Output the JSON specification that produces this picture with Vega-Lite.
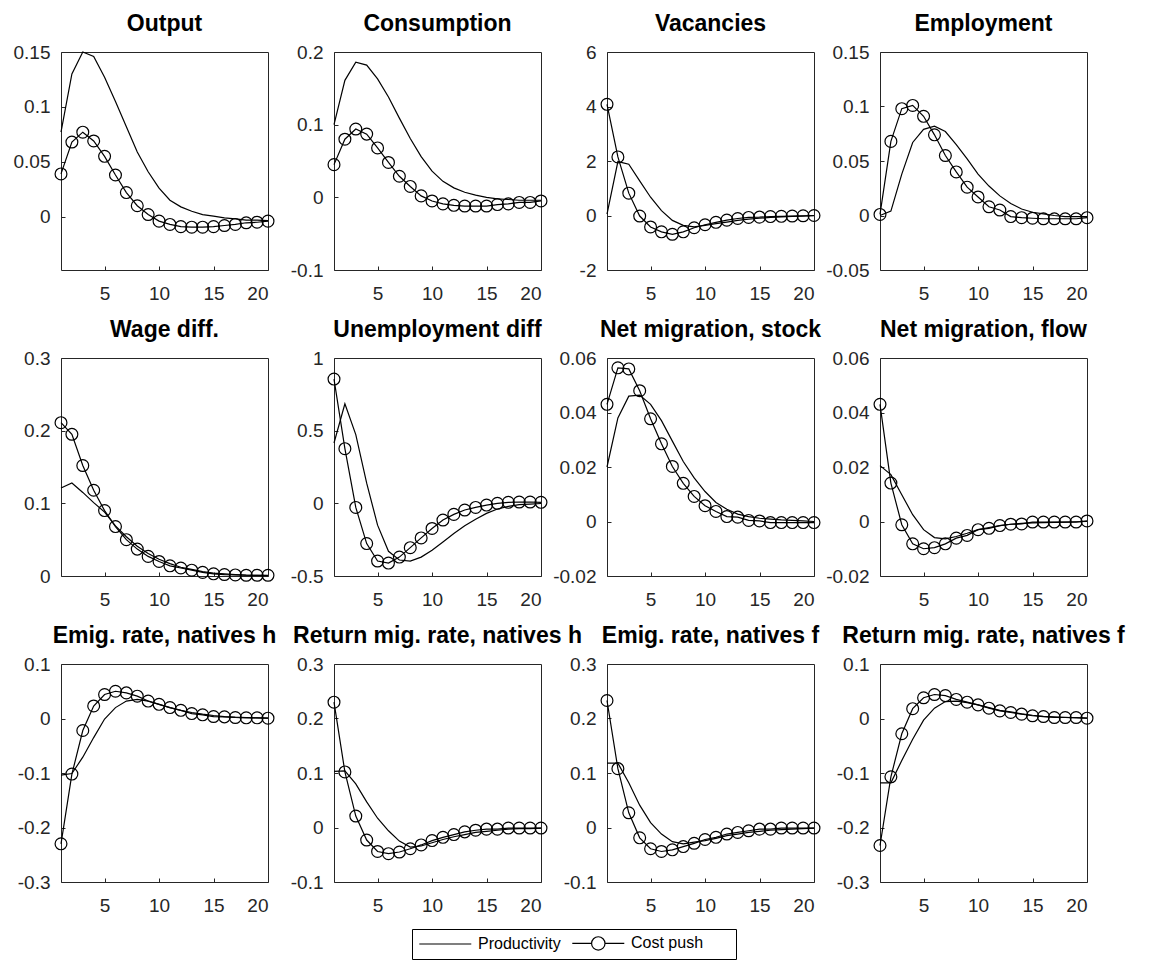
{
"$schema": "https://vega.github.io/schema/vega-lite/v6.json",
"background": "white",
"padding": {"left": 12, "top": 12, "right": 5, "bottom": 5},
"datasets": {"irf": [
{"panel":"Output","t":1,"Productivity":0.077,"Cost push":0.039},
{"panel":"Output","t":2,"Productivity":0.130,"Cost push":0.068},
{"panel":"Output","t":3,"Productivity":0.150,"Cost push":0.077},
{"panel":"Output","t":4,"Productivity":0.146,"Cost push":0.069},
{"panel":"Output","t":5,"Productivity":0.127,"Cost push":0.055},
{"panel":"Output","t":6,"Productivity":0.105,"Cost push":0.038},
{"panel":"Output","t":7,"Productivity":0.082,"Cost push":0.022},
{"panel":"Output","t":8,"Productivity":0.059,"Cost push":0.010},
{"panel":"Output","t":9,"Productivity":0.041,"Cost push":0.002},
{"panel":"Output","t":10,"Productivity":0.026,"Cost push":-0.004},
{"panel":"Output","t":11,"Productivity":0.015,"Cost push":-0.007},
{"panel":"Output","t":12,"Productivity":0.009,"Cost push":-0.009},
{"panel":"Output","t":13,"Productivity":0.005,"Cost push":-0.0095},
{"panel":"Output","t":14,"Productivity":0.002,"Cost push":-0.0095},
{"panel":"Output","t":15,"Productivity":0.0005,"Cost push":-0.009},
{"panel":"Output","t":16,"Productivity":-0.001,"Cost push":-0.008},
{"panel":"Output","t":17,"Productivity":-0.002,"Cost push":-0.007},
{"panel":"Output","t":18,"Productivity":-0.003,"Cost push":-0.0055},
{"panel":"Output","t":19,"Productivity":-0.003,"Cost push":-0.005},
{"panel":"Output","t":20,"Productivity":-0.0035,"Cost push":-0.004},
{"panel":"Consumption","t":1,"Productivity":0.100,"Cost push":0.045},
{"panel":"Consumption","t":2,"Productivity":0.161,"Cost push":0.080},
{"panel":"Consumption","t":3,"Productivity":0.186,"Cost push":0.094},
{"panel":"Consumption","t":4,"Productivity":0.182,"Cost push":0.087},
{"panel":"Consumption","t":5,"Productivity":0.163,"Cost push":0.068},
{"panel":"Consumption","t":6,"Productivity":0.138,"Cost push":0.048},
{"panel":"Consumption","t":7,"Productivity":0.109,"Cost push":0.029},
{"panel":"Consumption","t":8,"Productivity":0.081,"Cost push":0.015},
{"panel":"Consumption","t":9,"Productivity":0.056,"Cost push":0.002},
{"panel":"Consumption","t":10,"Productivity":0.036,"Cost push":-0.005},
{"panel":"Consumption","t":11,"Productivity":0.022,"Cost push":-0.009},
{"panel":"Consumption","t":12,"Productivity":0.013,"Cost push":-0.011},
{"panel":"Consumption","t":13,"Productivity":0.007,"Cost push":-0.012},
{"panel":"Consumption","t":14,"Productivity":0.003,"Cost push":-0.012},
{"panel":"Consumption","t":15,"Productivity":0.000,"Cost push":-0.012},
{"panel":"Consumption","t":16,"Productivity":-0.002,"Cost push":-0.010},
{"panel":"Consumption","t":17,"Productivity":-0.003,"Cost push":-0.009},
{"panel":"Consumption","t":18,"Productivity":-0.004,"Cost push":-0.007},
{"panel":"Consumption","t":19,"Productivity":-0.004,"Cost push":-0.007},
{"panel":"Consumption","t":20,"Productivity":-0.004,"Cost push":-0.005},
{"panel":"Vacancies","t":1,"Productivity":0.05,"Cost push":4.08},
{"panel":"Vacancies","t":2,"Productivity":1.98,"Cost push":2.15},
{"panel":"Vacancies","t":3,"Productivity":1.88,"Cost push":0.82},
{"panel":"Vacancies","t":4,"Productivity":1.27,"Cost push":-0.02},
{"panel":"Vacancies","t":5,"Productivity":0.67,"Cost push":-0.42},
{"panel":"Vacancies","t":6,"Productivity":0.18,"Cost push":-0.60},
{"panel":"Vacancies","t":7,"Productivity":-0.18,"Cost push":-0.69},
{"panel":"Vacancies","t":8,"Productivity":-0.36,"Cost push":-0.60},
{"panel":"Vacancies","t":9,"Productivity":-0.42,"Cost push":-0.45},
{"panel":"Vacancies","t":10,"Productivity":-0.36,"Cost push":-0.34},
{"panel":"Vacancies","t":11,"Productivity":-0.30,"Cost push":-0.25},
{"panel":"Vacancies","t":12,"Productivity":-0.24,"Cost push":-0.17},
{"panel":"Vacancies","t":13,"Productivity":-0.18,"Cost push":-0.11},
{"panel":"Vacancies","t":14,"Productivity":-0.13,"Cost push":-0.07},
{"panel":"Vacancies","t":15,"Productivity":-0.10,"Cost push":-0.06},
{"panel":"Vacancies","t":16,"Productivity":-0.07,"Cost push":-0.04},
{"panel":"Vacancies","t":17,"Productivity":-0.05,"Cost push":-0.03},
{"panel":"Vacancies","t":18,"Productivity":-0.03,"Cost push":-0.02},
{"panel":"Vacancies","t":19,"Productivity":-0.02,"Cost push":-0.01},
{"panel":"Vacancies","t":20,"Productivity":-0.01,"Cost push":0.0},
{"panel":"Employment","t":1,"Productivity":0.000,"Cost push":0.001},
{"panel":"Employment","t":2,"Productivity":0.004,"Cost push":0.068},
{"panel":"Employment","t":3,"Productivity":0.038,"Cost push":0.098},
{"panel":"Employment","t":4,"Productivity":0.067,"Cost push":0.101},
{"panel":"Employment","t":5,"Productivity":0.079,"Cost push":0.091},
{"panel":"Employment","t":6,"Productivity":0.082,"Cost push":0.074},
{"panel":"Employment","t":7,"Productivity":0.077,"Cost push":0.055},
{"panel":"Employment","t":8,"Productivity":0.065,"Cost push":0.040},
{"panel":"Employment","t":9,"Productivity":0.052,"Cost push":0.026},
{"panel":"Employment","t":10,"Productivity":0.038,"Cost push":0.017},
{"panel":"Employment","t":11,"Productivity":0.027,"Cost push":0.008},
{"panel":"Employment","t":12,"Productivity":0.018,"Cost push":0.005},
{"panel":"Employment","t":13,"Productivity":0.011,"Cost push":-0.001},
{"panel":"Employment","t":14,"Productivity":0.006,"Cost push":-0.002},
{"panel":"Employment","t":15,"Productivity":0.003,"Cost push":-0.0025},
{"panel":"Employment","t":16,"Productivity":0.0015,"Cost push":-0.003},
{"panel":"Employment","t":17,"Productivity":0.000,"Cost push":-0.003},
{"panel":"Employment","t":18,"Productivity":-0.001,"Cost push":-0.003},
{"panel":"Employment","t":19,"Productivity":-0.001,"Cost push":-0.003},
{"panel":"Employment","t":20,"Productivity":-0.001,"Cost push":-0.002},
{"panel":"Wage diff.","t":1,"Productivity":0.121,"Cost push":0.211},
{"panel":"Wage diff.","t":2,"Productivity":0.128,"Cost push":0.195},
{"panel":"Wage diff.","t":3,"Productivity":0.115,"Cost push":0.152},
{"panel":"Wage diff.","t":4,"Productivity":0.101,"Cost push":0.118},
{"panel":"Wage diff.","t":5,"Productivity":0.088,"Cost push":0.090},
{"panel":"Wage diff.","t":6,"Productivity":0.069,"Cost push":0.068},
{"panel":"Wage diff.","t":7,"Productivity":0.054,"Cost push":0.050},
{"panel":"Wage diff.","t":8,"Productivity":0.041,"Cost push":0.037},
{"panel":"Wage diff.","t":9,"Productivity":0.031,"Cost push":0.027},
{"panel":"Wage diff.","t":10,"Productivity":0.023,"Cost push":0.020},
{"panel":"Wage diff.","t":11,"Productivity":0.017,"Cost push":0.014},
{"panel":"Wage diff.","t":12,"Productivity":0.012,"Cost push":0.011},
{"panel":"Wage diff.","t":13,"Productivity":0.009,"Cost push":0.008},
{"panel":"Wage diff.","t":14,"Productivity":0.006,"Cost push":0.005},
{"panel":"Wage diff.","t":15,"Productivity":0.004,"Cost push":0.003},
{"panel":"Wage diff.","t":16,"Productivity":0.003,"Cost push":0.002},
{"panel":"Wage diff.","t":17,"Productivity":0.002,"Cost push":0.0015},
{"panel":"Wage diff.","t":18,"Productivity":0.0012,"Cost push":0.001},
{"panel":"Wage diff.","t":19,"Productivity":0.0008,"Cost push":0.001},
{"panel":"Wage diff.","t":20,"Productivity":0.0005,"Cost push":0.001},
{"panel":"Unemployment diff","t":1,"Productivity":0.415,"Cost push":0.855},
{"panel":"Unemployment diff","t":2,"Productivity":0.685,"Cost push":0.376},
{"panel":"Unemployment diff","t":3,"Productivity":0.473,"Cost push":-0.028},
{"panel":"Unemployment diff","t":4,"Productivity":0.139,"Cost push":-0.277},
{"panel":"Unemployment diff","t":5,"Productivity":-0.150,"Cost push":-0.397},
{"panel":"Unemployment diff","t":6,"Productivity":-0.330,"Cost push":-0.411},
{"panel":"Unemployment diff","t":7,"Productivity":-0.390,"Cost push":-0.370},
{"panel":"Unemployment diff","t":8,"Productivity":-0.397,"Cost push":-0.305},
{"panel":"Unemployment diff","t":9,"Productivity":-0.370,"Cost push":-0.238},
{"panel":"Unemployment diff","t":10,"Productivity":-0.323,"Cost push":-0.173},
{"panel":"Unemployment diff","t":11,"Productivity":-0.266,"Cost push":-0.115},
{"panel":"Unemployment diff","t":12,"Productivity":-0.208,"Cost push":-0.076},
{"panel":"Unemployment diff","t":13,"Productivity":-0.155,"Cost push":-0.046},
{"panel":"Unemployment diff","t":14,"Productivity":-0.109,"Cost push":-0.028},
{"panel":"Unemployment diff","t":15,"Productivity":-0.069,"Cost push":-0.012},
{"panel":"Unemployment diff","t":16,"Productivity":-0.039,"Cost push":0.000},
{"panel":"Unemployment diff","t":17,"Productivity":-0.021,"Cost push":0.007},
{"panel":"Unemployment diff","t":18,"Productivity":-0.009,"Cost push":0.009},
{"panel":"Unemployment diff","t":19,"Productivity":-0.005,"Cost push":0.009},
{"panel":"Unemployment diff","t":20,"Productivity":-0.001,"Cost push":0.007},
{"panel":"Net migration, stock","t":1,"Productivity":0.020,"Cost push":0.043},
{"panel":"Net migration, stock","t":2,"Productivity":0.038,"Cost push":0.0564},
{"panel":"Net migration, stock","t":3,"Productivity":0.046,"Cost push":0.056},
{"panel":"Net migration, stock","t":4,"Productivity":0.0464,"Cost push":0.048},
{"panel":"Net migration, stock","t":5,"Productivity":0.043,"Cost push":0.0377},
{"panel":"Net migration, stock","t":6,"Productivity":0.037,"Cost push":0.0285},
{"panel":"Net migration, stock","t":7,"Productivity":0.0295,"Cost push":0.0202},
{"panel":"Net migration, stock","t":8,"Productivity":0.022,"Cost push":0.014},
{"panel":"Net migration, stock","t":9,"Productivity":0.016,"Cost push":0.0092},
{"panel":"Net migration, stock","t":10,"Productivity":0.011,"Cost push":0.0058},
{"panel":"Net migration, stock","t":11,"Productivity":0.007,"Cost push":0.0037},
{"panel":"Net migration, stock","t":12,"Productivity":0.0045,"Cost push":0.0018},
{"panel":"Net migration, stock","t":13,"Productivity":0.0027,"Cost push":0.0016},
{"panel":"Net migration, stock","t":14,"Productivity":0.0018,"Cost push":0.0004},
{"panel":"Net migration, stock","t":15,"Productivity":0.0012,"Cost push":0.0002},
{"panel":"Net migration, stock","t":16,"Productivity":0.0009,"Cost push":-0.0004},
{"panel":"Net migration, stock","t":17,"Productivity":0.0006,"Cost push":-0.0004},
{"panel":"Net migration, stock","t":18,"Productivity":0.0004,"Cost push":-0.0004},
{"panel":"Net migration, stock","t":19,"Productivity":0.0002,"Cost push":-0.0004},
{"panel":"Net migration, stock","t":20,"Productivity":0.0,"Cost push":-0.0004},
{"panel":"Net migration, flow","t":1,"Productivity":0.0205,"Cost push":0.043},
{"panel":"Net migration, flow","t":2,"Productivity":0.0172,"Cost push":0.0141},
{"panel":"Net migration, flow","t":3,"Productivity":0.0098,"Cost push":-0.0012},
{"panel":"Net migration, flow","t":4,"Productivity":0.0025,"Cost push":-0.0082},
{"panel":"Net migration, flow","t":5,"Productivity":-0.003,"Cost push":-0.010},
{"panel":"Net migration, flow","t":6,"Productivity":-0.0059,"Cost push":-0.0096},
{"panel":"Net migration, flow","t":7,"Productivity":-0.0064,"Cost push":-0.0082},
{"panel":"Net migration, flow","t":8,"Productivity":-0.0055,"Cost push":-0.0061},
{"panel":"Net migration, flow","t":9,"Productivity":-0.0043,"Cost push":-0.0051},
{"panel":"Net migration, flow","t":10,"Productivity":-0.003,"Cost push":-0.003},
{"panel":"Net migration, flow","t":11,"Productivity":-0.0022,"Cost push":-0.0025},
{"panel":"Net migration, flow","t":12,"Productivity":-0.0015,"Cost push":-0.0015},
{"panel":"Net migration, flow","t":13,"Productivity":-0.001,"Cost push":-0.001},
{"panel":"Net migration, flow","t":14,"Productivity":-0.0007,"Cost push":-0.0009},
{"panel":"Net migration, flow","t":15,"Productivity":-0.0005,"Cost push":-0.0002},
{"panel":"Net migration, flow","t":16,"Productivity":-0.0004,"Cost push":-0.0002},
{"panel":"Net migration, flow","t":17,"Productivity":-0.0003,"Cost push":-0.0002},
{"panel":"Net migration, flow","t":18,"Productivity":-0.0002,"Cost push":-0.0002},
{"panel":"Net migration, flow","t":19,"Productivity":-0.0001,"Cost push":-0.0002},
{"panel":"Net migration, flow","t":20,"Productivity":0.0,"Cost push":0.0002},
{"panel":"Emig. rate, natives h","t":1,"Productivity":-0.104,"Cost push":-0.230},
{"panel":"Emig. rate, natives h","t":2,"Productivity":-0.101,"Cost push":-0.102},
{"panel":"Emig. rate, natives h","t":3,"Productivity":-0.071,"Cost push":-0.022},
{"panel":"Emig. rate, natives h","t":4,"Productivity":-0.035,"Cost push":0.023},
{"panel":"Emig. rate, natives h","t":5,"Productivity":-0.001,"Cost push":0.044},
{"panel":"Emig. rate, natives h","t":6,"Productivity":0.020,"Cost push":0.050},
{"panel":"Emig. rate, natives h","t":7,"Productivity":0.032,"Cost push":0.047},
{"panel":"Emig. rate, natives h","t":8,"Productivity":0.035,"Cost push":0.041},
{"panel":"Emig. rate, natives h","t":9,"Productivity":0.032,"Cost push":0.032},
{"panel":"Emig. rate, natives h","t":10,"Productivity":0.026,"Cost push":0.026},
{"panel":"Emig. rate, natives h","t":11,"Productivity":0.020,"Cost push":0.020},
{"panel":"Emig. rate, natives h","t":12,"Productivity":0.015,"Cost push":0.015},
{"panel":"Emig. rate, natives h","t":13,"Productivity":0.011,"Cost push":0.009},
{"panel":"Emig. rate, natives h","t":14,"Productivity":0.008,"Cost push":0.0067},
{"panel":"Emig. rate, natives h","t":15,"Productivity":0.0055,"Cost push":0.0036},
{"panel":"Emig. rate, natives h","t":16,"Productivity":0.0036,"Cost push":0.003},
{"panel":"Emig. rate, natives h","t":17,"Productivity":0.0024,"Cost push":0.0018},
{"panel":"Emig. rate, natives h","t":18,"Productivity":0.0018,"Cost push":0.0012},
{"panel":"Emig. rate, natives h","t":19,"Productivity":0.0012,"Cost push":0.0012},
{"panel":"Emig. rate, natives h","t":20,"Productivity":0.0006,"Cost push":0.0006},
{"panel":"Return mig. rate, natives h","t":1,"Productivity":0.103,"Cost push":0.230},
{"panel":"Return mig. rate, natives h","t":2,"Productivity":0.104,"Cost push":0.102},
{"panel":"Return mig. rate, natives h","t":3,"Productivity":0.080,"Cost push":0.021},
{"panel":"Return mig. rate, natives h","t":4,"Productivity":0.047,"Cost push":-0.023},
{"panel":"Return mig. rate, natives h","t":5,"Productivity":0.017,"Cost push":-0.044},
{"panel":"Return mig. rate, natives h","t":6,"Productivity":-0.006,"Cost push":-0.048},
{"panel":"Return mig. rate, natives h","t":7,"Productivity":-0.025,"Cost push":-0.045},
{"panel":"Return mig. rate, natives h","t":8,"Productivity":-0.036,"Cost push":-0.039},
{"panel":"Return mig. rate, natives h","t":9,"Productivity":-0.034,"Cost push":-0.032},
{"panel":"Return mig. rate, natives h","t":10,"Productivity":-0.028,"Cost push":-0.024},
{"panel":"Return mig. rate, natives h","t":11,"Productivity":-0.022,"Cost push":-0.018},
{"panel":"Return mig. rate, natives h","t":12,"Productivity":-0.017,"Cost push":-0.013},
{"panel":"Return mig. rate, natives h","t":13,"Productivity":-0.013,"Cost push":-0.008},
{"panel":"Return mig. rate, natives h","t":14,"Productivity":-0.009,"Cost push":-0.005},
{"panel":"Return mig. rate, natives h","t":15,"Productivity":-0.007,"Cost push":-0.003},
{"panel":"Return mig. rate, natives h","t":16,"Productivity":-0.005,"Cost push":-0.003},
{"panel":"Return mig. rate, natives h","t":17,"Productivity":-0.003,"Cost push":-0.001},
{"panel":"Return mig. rate, natives h","t":18,"Productivity":-0.002,"Cost push":-0.001},
{"panel":"Return mig. rate, natives h","t":19,"Productivity":-0.002,"Cost push":-0.001},
{"panel":"Return mig. rate, natives h","t":20,"Productivity":-0.001,"Cost push":-0.001},
{"panel":"Emig. rate, natives f","t":1,"Productivity":0.118,"Cost push":0.233},
{"panel":"Emig. rate, natives f","t":2,"Productivity":0.118,"Cost push":0.108},
{"panel":"Emig. rate, natives f","t":3,"Productivity":0.082,"Cost push":0.027},
{"panel":"Emig. rate, natives f","t":4,"Productivity":0.041,"Cost push":-0.019},
{"panel":"Emig. rate, natives f","t":5,"Productivity":0.009,"Cost push":-0.039},
{"panel":"Emig. rate, natives f","t":6,"Productivity":-0.012,"Cost push":-0.044},
{"panel":"Emig. rate, natives f","t":7,"Productivity":-0.026,"Cost push":-0.041},
{"panel":"Emig. rate, natives f","t":8,"Productivity":-0.030,"Cost push":-0.035},
{"panel":"Emig. rate, natives f","t":9,"Productivity":-0.027,"Cost push":-0.029},
{"panel":"Emig. rate, natives f","t":10,"Productivity":-0.024,"Cost push":-0.022},
{"panel":"Emig. rate, natives f","t":11,"Productivity":-0.020,"Cost push":-0.018},
{"panel":"Emig. rate, natives f","t":12,"Productivity":-0.015,"Cost push":-0.012},
{"panel":"Emig. rate, natives f","t":13,"Productivity":-0.012,"Cost push":-0.009},
{"panel":"Emig. rate, natives f","t":14,"Productivity":-0.009,"Cost push":-0.006},
{"panel":"Emig. rate, natives f","t":15,"Productivity":-0.007,"Cost push":-0.003},
{"panel":"Emig. rate, natives f","t":16,"Productivity":-0.005,"Cost push":-0.003},
{"panel":"Emig. rate, natives f","t":17,"Productivity":-0.004,"Cost push":-0.001},
{"panel":"Emig. rate, natives f","t":18,"Productivity":-0.003,"Cost push":-0.001},
{"panel":"Emig. rate, natives f","t":19,"Productivity":-0.002,"Cost push":-0.001},
{"panel":"Emig. rate, natives f","t":20,"Productivity":-0.001,"Cost push":-0.001},
{"panel":"Return mig. rate, natives f","t":1,"Productivity":-0.118,"Cost push":-0.233},
{"panel":"Return mig. rate, natives f","t":2,"Productivity":-0.118,"Cost push":-0.107},
{"panel":"Return mig. rate, natives f","t":3,"Productivity":-0.077,"Cost push":-0.028},
{"panel":"Return mig. rate, natives f","t":4,"Productivity":-0.038,"Cost push":0.018},
{"panel":"Return mig. rate, natives f","t":5,"Productivity":-0.003,"Cost push":0.038},
{"panel":"Return mig. rate, natives f","t":6,"Productivity":0.019,"Cost push":0.044},
{"panel":"Return mig. rate, natives f","t":7,"Productivity":0.031,"Cost push":0.042},
{"panel":"Return mig. rate, natives f","t":8,"Productivity":0.032,"Cost push":0.035},
{"panel":"Return mig. rate, natives f","t":9,"Productivity":0.029,"Cost push":0.030},
{"panel":"Return mig. rate, natives f","t":10,"Productivity":0.025,"Cost push":0.025},
{"panel":"Return mig. rate, natives f","t":11,"Productivity":0.020,"Cost push":0.019},
{"panel":"Return mig. rate, natives f","t":12,"Productivity":0.015,"Cost push":0.014},
{"panel":"Return mig. rate, natives f","t":13,"Productivity":0.012,"Cost push":0.011},
{"panel":"Return mig. rate, natives f","t":14,"Productivity":0.0085,"Cost push":0.008},
{"panel":"Return mig. rate, natives f","t":15,"Productivity":0.006,"Cost push":0.005},
{"panel":"Return mig. rate, natives f","t":16,"Productivity":0.004,"Cost push":0.0036},
{"panel":"Return mig. rate, natives f","t":17,"Productivity":0.003,"Cost push":0.0018},
{"panel":"Return mig. rate, natives f","t":18,"Productivity":0.002,"Cost push":0.0018},
{"panel":"Return mig. rate, natives f","t":19,"Productivity":0.0012,"Cost push":0.0018},
{"panel":"Return mig. rate, natives f","t":20,"Productivity":0.0006,"Cost push":0.0006}
]},
"data": {"name": "irf"},
"columns": 4,
"spacing": {"column": 66, "row": 88},
"bounds": "flush",
"concat": [
{"title": "Output", "width": 207, "height": 218,
 "transform": [{"filter": "datum.panel === 'Output'"}],
 "encoding": {"x": {"field": "t", "type": "quantitative", "scale": {"domain": [1, 20], "nice": false, "zero": false}, "axis": {"values": [5, 10, 15, 20]}}},
 "layer": [
  {"mark": {"type": "line", "color": "black", "strokeWidth": 1.2}, "encoding": {"y": {"field": "Productivity", "type": "quantitative", "scale": {"domain": [-0.0485, 0.15], "nice": false, "zero": false}, "axis": {"values": [0, 0.05, 0.1, 0.15]}}}},
  {"mark": {"type": "line", "color": "black", "strokeWidth": 1.2}, "encoding": {"y": {"field": "Cost push", "type": "quantitative", "scale": {"domain": [-0.0485, 0.15], "nice": false, "zero": false}, "axis": {"values": [0, 0.05, 0.1, 0.15]}}}},
  {"mark": {"type": "point", "shape": "circle", "filled": false, "color": "black", "size": 140, "strokeWidth": 1.2, "opacity": 1}, "encoding": {"y": {"field": "Cost push", "type": "quantitative", "scale": {"domain": [-0.0485, 0.15], "nice": false, "zero": false}, "axis": {"values": [0, 0.05, 0.1, 0.15]}}}},
  {"transform": [{"fold": ["Productivity", "Cost push"], "as": ["series", "val"]}],
   "mark": {"type": "point", "opacity": 0},
   "encoding": {
    "y": {"field": "val", "type": "quantitative", "scale": {"domain": [-0.0485, 0.15], "nice": false, "zero": false}, "axis": {"values": [0, 0.05, 0.1, 0.15]}},
    "shape": {"field": "series", "type": "nominal",
      "scale": {"domain": ["Productivity", "Cost push"], "range": ["M-1,0H6.75", "M-1,0H1.875M3.875,0H6.75M3.875,0A1,1,0,1,1,1.875,0A1,1,0,1,1,3.875,0"]},
      "legend": {"title": null, "orient": "none", "legendX": 351, "legendY": 877, "direction": "horizontal",
        "strokeColor": "black", "fillColor": "white", "padding": 6, "labelFontSize": 16, "labelFont": "Liberation Sans", "labelColor": "black",
        "symbolSize": 180, "symbolStrokeColor": "black", "symbolFillColor": "transparent", "symbolStrokeWidth": 1.2, "symbolOpacity": 1,
        "labelOffset": 44, "columnPadding": 8,
        "labelExpr": "datum.label === 'Cost push' ? 'Cost push\u00a0\u00a0\u00a0\u00a0\u00a0\u00a0\u200b' : datum.label",
        "encode": {"symbols": {"update": {"opacity": {"value": 1}, "strokeOpacity": {"value": 1}}}}}}
   }}
 ]},
{"title": "Consumption", "width": 207, "height": 218,
 "transform": [{"filter": "datum.panel === 'Consumption'"}],
 "encoding": {"x": {"field": "t", "type": "quantitative", "scale": {"domain": [1, 20], "nice": false, "zero": false}, "axis": {"values": [5, 10, 15, 20]}}},
 "layer": [
  {"mark": {"type": "line", "color": "black", "strokeWidth": 1.2}, "encoding": {"y": {"field": "Productivity", "type": "quantitative", "scale": {"domain": [-0.1, 0.2], "nice": false, "zero": false}, "axis": {"values": [-0.1, 0, 0.1, 0.2]}}}},
  {"mark": {"type": "line", "color": "black", "strokeWidth": 1.2}, "encoding": {"y": {"field": "Cost push", "type": "quantitative", "scale": {"domain": [-0.1, 0.2], "nice": false, "zero": false}, "axis": {"values": [-0.1, 0, 0.1, 0.2]}}}},
  {"mark": {"type": "point", "shape": "circle", "filled": false, "color": "black", "size": 140, "strokeWidth": 1.2, "opacity": 1}, "encoding": {"y": {"field": "Cost push", "type": "quantitative", "scale": {"domain": [-0.1, 0.2], "nice": false, "zero": false}, "axis": {"values": [-0.1, 0, 0.1, 0.2]}}}}
 ]},
{"title": "Vacancies", "width": 207, "height": 218,
 "transform": [{"filter": "datum.panel === 'Vacancies'"}],
 "encoding": {"x": {"field": "t", "type": "quantitative", "scale": {"domain": [1, 20], "nice": false, "zero": false}, "axis": {"values": [5, 10, 15, 20]}}},
 "layer": [
  {"mark": {"type": "line", "color": "black", "strokeWidth": 1.2}, "encoding": {"y": {"field": "Productivity", "type": "quantitative", "scale": {"domain": [-2, 6], "nice": false, "zero": false}, "axis": {"values": [-2, 0, 2, 4, 6]}}}},
  {"mark": {"type": "line", "color": "black", "strokeWidth": 1.2}, "encoding": {"y": {"field": "Cost push", "type": "quantitative", "scale": {"domain": [-2, 6], "nice": false, "zero": false}, "axis": {"values": [-2, 0, 2, 4, 6]}}}},
  {"mark": {"type": "point", "shape": "circle", "filled": false, "color": "black", "size": 140, "strokeWidth": 1.2, "opacity": 1}, "encoding": {"y": {"field": "Cost push", "type": "quantitative", "scale": {"domain": [-2, 6], "nice": false, "zero": false}, "axis": {"values": [-2, 0, 2, 4, 6]}}}}
 ]},
{"title": "Employment", "width": 207, "height": 218,
 "transform": [{"filter": "datum.panel === 'Employment'"}],
 "encoding": {"x": {"field": "t", "type": "quantitative", "scale": {"domain": [1, 20], "nice": false, "zero": false}, "axis": {"values": [5, 10, 15, 20]}}},
 "layer": [
  {"mark": {"type": "line", "color": "black", "strokeWidth": 1.2}, "encoding": {"y": {"field": "Productivity", "type": "quantitative", "scale": {"domain": [-0.05, 0.15], "nice": false, "zero": false}, "axis": {"values": [-0.05, 0, 0.05, 0.1, 0.15]}}}},
  {"mark": {"type": "line", "color": "black", "strokeWidth": 1.2}, "encoding": {"y": {"field": "Cost push", "type": "quantitative", "scale": {"domain": [-0.05, 0.15], "nice": false, "zero": false}, "axis": {"values": [-0.05, 0, 0.05, 0.1, 0.15]}}}},
  {"mark": {"type": "point", "shape": "circle", "filled": false, "color": "black", "size": 140, "strokeWidth": 1.2, "opacity": 1}, "encoding": {"y": {"field": "Cost push", "type": "quantitative", "scale": {"domain": [-0.05, 0.15], "nice": false, "zero": false}, "axis": {"values": [-0.05, 0, 0.05, 0.1, 0.15]}}}}
 ]},
{"title": "Wage diff.", "width": 207, "height": 218,
 "transform": [{"filter": "datum.panel === 'Wage diff.'"}],
 "encoding": {"x": {"field": "t", "type": "quantitative", "scale": {"domain": [1, 20], "nice": false, "zero": false}, "axis": {"values": [5, 10, 15, 20]}}},
 "layer": [
  {"mark": {"type": "line", "color": "black", "strokeWidth": 1.2}, "encoding": {"y": {"field": "Productivity", "type": "quantitative", "scale": {"domain": [0, 0.3], "nice": false, "zero": false}, "axis": {"values": [0, 0.1, 0.2, 0.3]}}}},
  {"mark": {"type": "line", "color": "black", "strokeWidth": 1.2}, "encoding": {"y": {"field": "Cost push", "type": "quantitative", "scale": {"domain": [0, 0.3], "nice": false, "zero": false}, "axis": {"values": [0, 0.1, 0.2, 0.3]}}}},
  {"mark": {"type": "point", "shape": "circle", "filled": false, "color": "black", "size": 140, "strokeWidth": 1.2, "opacity": 1}, "encoding": {"y": {"field": "Cost push", "type": "quantitative", "scale": {"domain": [0, 0.3], "nice": false, "zero": false}, "axis": {"values": [0, 0.1, 0.2, 0.3]}}}}
 ]},
{"title": "Unemployment diff", "width": 207, "height": 218,
 "transform": [{"filter": "datum.panel === 'Unemployment diff'"}],
 "encoding": {"x": {"field": "t", "type": "quantitative", "scale": {"domain": [1, 20], "nice": false, "zero": false}, "axis": {"values": [5, 10, 15, 20]}}},
 "layer": [
  {"mark": {"type": "line", "color": "black", "strokeWidth": 1.2}, "encoding": {"y": {"field": "Productivity", "type": "quantitative", "scale": {"domain": [-0.5, 1], "nice": false, "zero": false}, "axis": {"values": [-0.5, 0, 0.5, 1]}}}},
  {"mark": {"type": "line", "color": "black", "strokeWidth": 1.2}, "encoding": {"y": {"field": "Cost push", "type": "quantitative", "scale": {"domain": [-0.5, 1], "nice": false, "zero": false}, "axis": {"values": [-0.5, 0, 0.5, 1]}}}},
  {"mark": {"type": "point", "shape": "circle", "filled": false, "color": "black", "size": 140, "strokeWidth": 1.2, "opacity": 1}, "encoding": {"y": {"field": "Cost push", "type": "quantitative", "scale": {"domain": [-0.5, 1], "nice": false, "zero": false}, "axis": {"values": [-0.5, 0, 0.5, 1]}}}}
 ]},
{"title": "Net migration, stock", "width": 207, "height": 218,
 "transform": [{"filter": "datum.panel === 'Net migration, stock'"}],
 "encoding": {"x": {"field": "t", "type": "quantitative", "scale": {"domain": [1, 20], "nice": false, "zero": false}, "axis": {"values": [5, 10, 15, 20]}}},
 "layer": [
  {"mark": {"type": "line", "color": "black", "strokeWidth": 1.2}, "encoding": {"y": {"field": "Productivity", "type": "quantitative", "scale": {"domain": [-0.02, 0.06], "nice": false, "zero": false}, "axis": {"values": [-0.02, 0, 0.02, 0.04, 0.06]}}}},
  {"mark": {"type": "line", "color": "black", "strokeWidth": 1.2}, "encoding": {"y": {"field": "Cost push", "type": "quantitative", "scale": {"domain": [-0.02, 0.06], "nice": false, "zero": false}, "axis": {"values": [-0.02, 0, 0.02, 0.04, 0.06]}}}},
  {"mark": {"type": "point", "shape": "circle", "filled": false, "color": "black", "size": 140, "strokeWidth": 1.2, "opacity": 1}, "encoding": {"y": {"field": "Cost push", "type": "quantitative", "scale": {"domain": [-0.02, 0.06], "nice": false, "zero": false}, "axis": {"values": [-0.02, 0, 0.02, 0.04, 0.06]}}}}
 ]},
{"title": "Net migration, flow", "width": 207, "height": 218,
 "transform": [{"filter": "datum.panel === 'Net migration, flow'"}],
 "encoding": {"x": {"field": "t", "type": "quantitative", "scale": {"domain": [1, 20], "nice": false, "zero": false}, "axis": {"values": [5, 10, 15, 20]}}},
 "layer": [
  {"mark": {"type": "line", "color": "black", "strokeWidth": 1.2}, "encoding": {"y": {"field": "Productivity", "type": "quantitative", "scale": {"domain": [-0.02, 0.06], "nice": false, "zero": false}, "axis": {"values": [-0.02, 0, 0.02, 0.04, 0.06]}}}},
  {"mark": {"type": "line", "color": "black", "strokeWidth": 1.2}, "encoding": {"y": {"field": "Cost push", "type": "quantitative", "scale": {"domain": [-0.02, 0.06], "nice": false, "zero": false}, "axis": {"values": [-0.02, 0, 0.02, 0.04, 0.06]}}}},
  {"mark": {"type": "point", "shape": "circle", "filled": false, "color": "black", "size": 140, "strokeWidth": 1.2, "opacity": 1}, "encoding": {"y": {"field": "Cost push", "type": "quantitative", "scale": {"domain": [-0.02, 0.06], "nice": false, "zero": false}, "axis": {"values": [-0.02, 0, 0.02, 0.04, 0.06]}}}}
 ]},
{"title": "Emig. rate, natives h", "width": 207, "height": 218,
 "transform": [{"filter": "datum.panel === 'Emig. rate, natives h'"}],
 "encoding": {"x": {"field": "t", "type": "quantitative", "scale": {"domain": [1, 20], "nice": false, "zero": false}, "axis": {"values": [5, 10, 15, 20]}}},
 "layer": [
  {"mark": {"type": "line", "color": "black", "strokeWidth": 1.2}, "encoding": {"y": {"field": "Productivity", "type": "quantitative", "scale": {"domain": [-0.3, 0.1], "nice": false, "zero": false}, "axis": {"values": [-0.3, -0.2, -0.1, 0, 0.1]}}}},
  {"mark": {"type": "line", "color": "black", "strokeWidth": 1.2}, "encoding": {"y": {"field": "Cost push", "type": "quantitative", "scale": {"domain": [-0.3, 0.1], "nice": false, "zero": false}, "axis": {"values": [-0.3, -0.2, -0.1, 0, 0.1]}}}},
  {"mark": {"type": "point", "shape": "circle", "filled": false, "color": "black", "size": 140, "strokeWidth": 1.2, "opacity": 1}, "encoding": {"y": {"field": "Cost push", "type": "quantitative", "scale": {"domain": [-0.3, 0.1], "nice": false, "zero": false}, "axis": {"values": [-0.3, -0.2, -0.1, 0, 0.1]}}}}
 ]},
{"title": "Return mig. rate, natives h", "width": 207, "height": 218,
 "transform": [{"filter": "datum.panel === 'Return mig. rate, natives h'"}],
 "encoding": {"x": {"field": "t", "type": "quantitative", "scale": {"domain": [1, 20], "nice": false, "zero": false}, "axis": {"values": [5, 10, 15, 20]}}},
 "layer": [
  {"mark": {"type": "line", "color": "black", "strokeWidth": 1.2}, "encoding": {"y": {"field": "Productivity", "type": "quantitative", "scale": {"domain": [-0.1, 0.3], "nice": false, "zero": false}, "axis": {"values": [-0.1, 0, 0.1, 0.2, 0.3]}}}},
  {"mark": {"type": "line", "color": "black", "strokeWidth": 1.2}, "encoding": {"y": {"field": "Cost push", "type": "quantitative", "scale": {"domain": [-0.1, 0.3], "nice": false, "zero": false}, "axis": {"values": [-0.1, 0, 0.1, 0.2, 0.3]}}}},
  {"mark": {"type": "point", "shape": "circle", "filled": false, "color": "black", "size": 140, "strokeWidth": 1.2, "opacity": 1}, "encoding": {"y": {"field": "Cost push", "type": "quantitative", "scale": {"domain": [-0.1, 0.3], "nice": false, "zero": false}, "axis": {"values": [-0.1, 0, 0.1, 0.2, 0.3]}}}}
 ]},
{"title": "Emig. rate, natives f", "width": 207, "height": 218,
 "transform": [{"filter": "datum.panel === 'Emig. rate, natives f'"}],
 "encoding": {"x": {"field": "t", "type": "quantitative", "scale": {"domain": [1, 20], "nice": false, "zero": false}, "axis": {"values": [5, 10, 15, 20]}}},
 "layer": [
  {"mark": {"type": "line", "color": "black", "strokeWidth": 1.2}, "encoding": {"y": {"field": "Productivity", "type": "quantitative", "scale": {"domain": [-0.1, 0.3], "nice": false, "zero": false}, "axis": {"values": [-0.1, 0, 0.1, 0.2, 0.3]}}}},
  {"mark": {"type": "line", "color": "black", "strokeWidth": 1.2}, "encoding": {"y": {"field": "Cost push", "type": "quantitative", "scale": {"domain": [-0.1, 0.3], "nice": false, "zero": false}, "axis": {"values": [-0.1, 0, 0.1, 0.2, 0.3]}}}},
  {"mark": {"type": "point", "shape": "circle", "filled": false, "color": "black", "size": 140, "strokeWidth": 1.2, "opacity": 1}, "encoding": {"y": {"field": "Cost push", "type": "quantitative", "scale": {"domain": [-0.1, 0.3], "nice": false, "zero": false}, "axis": {"values": [-0.1, 0, 0.1, 0.2, 0.3]}}}}
 ]},
{"title": "Return mig. rate, natives f", "width": 207, "height": 218,
 "transform": [{"filter": "datum.panel === 'Return mig. rate, natives f'"}],
 "encoding": {"x": {"field": "t", "type": "quantitative", "scale": {"domain": [1, 20], "nice": false, "zero": false}, "axis": {"values": [5, 10, 15, 20]}}},
 "layer": [
  {"mark": {"type": "line", "color": "black", "strokeWidth": 1.2}, "encoding": {"y": {"field": "Productivity", "type": "quantitative", "scale": {"domain": [-0.3, 0.1], "nice": false, "zero": false}, "axis": {"values": [-0.3, -0.2, -0.1, 0, 0.1]}}}},
  {"mark": {"type": "line", "color": "black", "strokeWidth": 1.2}, "encoding": {"y": {"field": "Cost push", "type": "quantitative", "scale": {"domain": [-0.3, 0.1], "nice": false, "zero": false}, "axis": {"values": [-0.3, -0.2, -0.1, 0, 0.1]}}}},
  {"mark": {"type": "point", "shape": "circle", "filled": false, "color": "black", "size": 140, "strokeWidth": 1.2, "opacity": 1}, "encoding": {"y": {"field": "Cost push", "type": "quantitative", "scale": {"domain": [-0.3, 0.1], "nice": false, "zero": false}, "axis": {"values": [-0.3, -0.2, -0.1, 0, 0.1]}}}}
 ]}
],
"config": {
 "font": "Liberation Sans",
 "view": {"stroke": "#262626", "strokeWidth": 1},
 "axis": {"domain": false, "grid": false, "title": null, "labelFont": "Liberation Sans", "labelFontSize": 19, "labelColor": "#262626", "tickColor": "#262626", "tickSize": -4, "tickWidth": 1, "labelExpr": "toString(datum.value)"},
 "axisX": {"labelPadding": 18},
 "axisY": {"labelPadding": 15},
 "title": {"font": "Liberation Sans", "fontSize": 23, "fontWeight": "bold", "color": "black", "anchor": "middle", "frame": "group", "offset": 7}
}
}
